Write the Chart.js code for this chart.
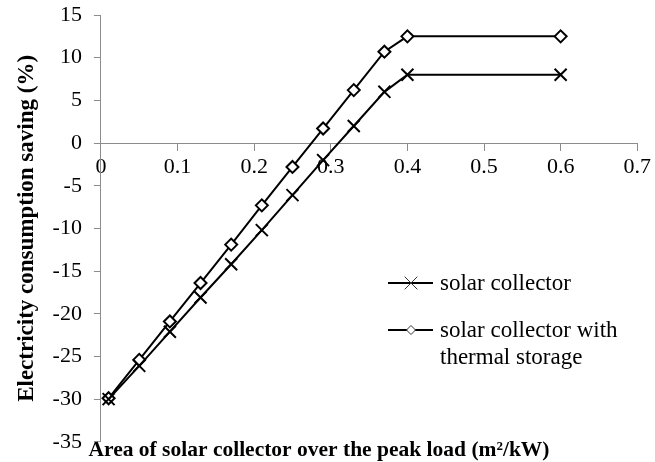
<!DOCTYPE html>
<html>
<head>
<meta charset="utf-8">
<script src="https://cdn.jsdelivr.net/npm/chart.js@4.4.0/dist/chart.umd.min.js"></script>
<style>
  html, body { margin: 0; padding: 0; background: #fff; }
  #wrap { width: 655px; height: 462px; position: relative; }
</style>
</head>
<body>
<div id="wrap"><canvas id="chart" width="655" height="462"></canvas></div>
<script>
// area of solar collector over peak load (m2/kW)
const areaRatio = [0.01, 0.05, 0.09, 0.13, 0.17, 0.21, 0.25, 0.29, 0.33, 0.37, 0.40, 0.60];
// electricity consumption saving (%)
const savingCollector = [-30, -26.1, -22.1, -18.1, -14.2, -10.2, -6.1, -2.0, 2.0, 6.0, 8.0, 8.0];
const savingStorage = [-29.9, -25.4, -20.9, -16.4, -11.9, -7.3, -2.8, 1.7, 6.2, 10.7, 12.5, 12.5];
const seriesNames = ["solar collector", "solar collector with\nthermal storage"];
const xTicks = [0, 0.1, 0.2, 0.3, 0.4, 0.5, 0.6, 0.7];
const yTicks = [-35, -30, -25, -20, -15, -10, -5, 0, 5, 10, 15];

const serif = "'Liberation Serif', 'Times New Roman', serif";
const axisGray = "#8c8c8c";

function toPoints(xs, ys) {
    return xs.map((x, i) => ({ x: x, y: ys[i] }));
}

// legend drawn inside the plot, like the original
const innerLegend = {
    id: "innerLegend",
    afterDraw(chart) {
        const ctx = chart.ctx;
        const rows = [283, 330];
        const markerSize = [9, 4.5];
        ctx.save();
        chart.data.datasets.forEach((ds, i) => {
            const y = rows[i];
            ctx.strokeStyle = "#000";
            ctx.lineWidth = 2;
            ctx.beginPath();
            ctx.moveTo(388, y);
            ctx.lineTo(433, y);
            ctx.stroke();
            ctx.fillStyle = "#fff";
            ctx.strokeStyle = "#333";
            ctx.lineWidth = 1;
            Chart.helpers.drawPoint(ctx, {
                pointStyle: ds.pointStyle,
                radius: markerSize[i],
                rotation: 0,
                borderWidth: 1
            }, 411, y);
            ctx.fillStyle = "#000";
            ctx.font = "23px " + serif;
            ctx.textBaseline = "middle";
            ds.label.split("\n").forEach((line, j) => {
                ctx.fillText(line, 440, y + 1 + j * 27);
            });
        });
        ctx.restore();
    }
};

const ctx = document.getElementById("chart").getContext("2d");
new Chart(ctx, {
    type: "line",
    data: {
        datasets: [
            {
                label: seriesNames[0],
                data: toPoints(areaRatio, savingCollector),
                borderColor: "#000",
                backgroundColor: "#000",
                borderWidth: 2,
                pointStyle: "crossRot",
                pointRadius: 8.5,
                pointBorderWidth: 2,
                pointBorderColor: "#000",
                tension: 0,
                xAxisID: "x",
                yAxisID: "y"
            },
            {
                label: seriesNames[1],
                data: toPoints(areaRatio, savingStorage),
                borderColor: "#000",
                backgroundColor: "#fff",
                borderWidth: 2,
                pointStyle: "rectRot",
                pointRadius: 6,
                pointBorderWidth: 2,
                pointBorderColor: "#000",
                pointBackgroundColor: "#fff",
                tension: 0,
                xAxisID: "x",
                yAxisID: "y"
            }
        ]
    },
    options: {
        responsive: false,
        animation: false,
        layout: { padding: { top: 15, right: 17, left: 0, bottom: 3 } },
        plugins: {
            legend: { display: false },
            tooltip: { enabled: false },
            title: {
                display: true,
                position: "bottom",
                align: "center",
                text: "Area of solar collector over the peak load (m²/kW)",
                color: "#000",
                font: { family: serif, size: 21.5, weight: "bold", lineHeight: 0.8 },
                padding: 0
            }
        },
        scales: {
            x: {
                type: "linear",
                position: { y: 0 },
                min: 0,
                max: 0.7,
                afterBuildTicks: axis => { axis.ticks = xTicks.map(v => ({ value: v })); },
                ticks: {
                    color: "#000",
                    font: { family: serif, size: 22 },
                    padding: 4,
                    maxRotation: 0,
                    callback: v => String(v)
                },
                grid: {
                    display: true,
                    drawOnChartArea: false,
                    drawTicks: true,
                    tickLength: 7,
                    color: axisGray
                },
                border: { display: true, color: axisGray, width: 1 }
            },
            y: {
                type: "linear",
                min: -35,
                max: 15,
                afterBuildTicks: axis => { axis.ticks = yTicks.map(v => ({ value: v })); },
                afterFit: axis => { axis.paddingTop = 0; axis.paddingBottom = 0; },
                ticks: {
                    color: "#000",
                    font: { family: serif, size: 22 },
                    padding: 12
                },
                grid: {
                    display: true,
                    drawOnChartArea: false,
                    drawTicks: true,
                    tickLength: 7,
                    color: axisGray
                },
                border: { display: true, color: axisGray, width: 1 },
                title: {
                    display: true,
                    text: "Electricity consumption saving (%)",
                    color: "#000",
                    font: { family: serif, size: 23, weight: "bold" },
                    padding: { top: 13, bottom: 0 }
                }
            }
        }
    },
    plugins: [innerLegend]
});
</script>
</body>
</html>
